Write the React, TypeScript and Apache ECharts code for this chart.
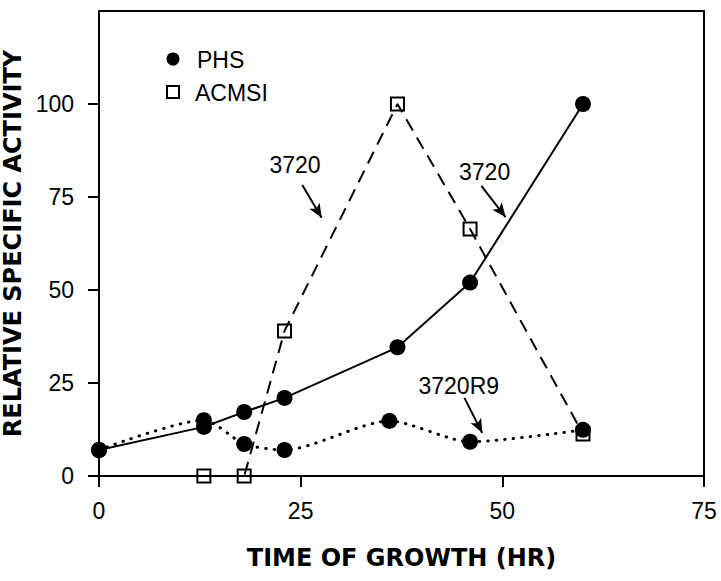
import React, { useEffect, useRef } from "react";
import * as echarts from "echarts";

const timeSolid = [0, 13, 18, 23, 37, 46, 60];
const phsSolid = [7, 13.2, 17.2, 21, 34.6, 52, 100];
const timeDotted = [0, 13, 18, 23, 36, 46, 60];
const phsDotted = [7, 15, 8.6, 7, 14.8, 9.2, 12.4];
const timeAcmsi = [13, 18, 23, 37, 46, 60];
const acmsi = [0, 0, 39, 100, 66.4, 11.3];
const xTicks = [0, 25, 50, 75];
const yTicks = [0, 25, 50, 75, 100];

const annotations = [
  { text: "3720", at: [24.3, 83.6], from: [25.2, 78.2], to: [27.6, 69.4] },
  { text: "3720", at: [47.8, 81.7], from: [47.4, 78], to: [50.4, 69.6] },
  { text: "3720R9", at: [44.6, 24.2], from: [45.3, 21], to: [47.5, 11.6] },
];

const FONT = "'Liberation Sans', Arial, Helvetica, sans-serif";
const TITLE_FONT = "'DejaVu Sans', sans-serif";

export default function App() {
  const ref = useRef<HTMLDivElement>(null);
  useEffect(() => {
    if (!ref.current) return;
    const chart = echarts.init(ref.current, undefined, { renderer: "svg" });
    const zip = (xs: number[], ys: number[]) => xs.map((x, i) => [x, ys[i]]);
    chart.setOption({
      animation: false,
      backgroundColor: "#fff",
      grid: {
        left: 99,
        right: 17,
        top: 11,
        bottom: 105,
        containLabel: false,
        outerBoundsMode: "none",
        show: true,
        borderColor: "#000",
        borderWidth: 2,
        backgroundColor: "transparent",
      },
      xAxis: {
        type: "value",
        min: 0,
        max: 75,
        interval: 25,
        name: "TIME OF GROWTH (HR)",
        nameLocation: "middle",
        nameGap: 70,
        nameTextStyle: { fontFamily: TITLE_FONT, fontSize: 24, fontWeight: "bold", color: "#000" },
        axisLine: { show: true, lineStyle: { color: "#000", width: 2 } },
        axisTick: { show: true, inside: false, length: 11, lineStyle: { color: "#000", width: 2 } },
        axisLabel: {
          margin: 23,
          fontFamily: FONT,
          fontSize: 23,
          color: "#000",
          customValues: xTicks,
        },
        splitLine: { show: false },
      },
      yAxis: {
        type: "value",
        min: 0,
        max: 125,
        interval: 25,
        name: "RELATIVE SPECIFIC ACTIVITY",
        nameLocation: "middle",
        nameGap: 70,
        nameTextStyle: { fontFamily: TITLE_FONT, fontSize: 24, fontWeight: "bold", color: "#000" },
        axisLine: { show: true, lineStyle: { color: "#000", width: 2 } },
        axisTick: {
          show: true,
          inside: false,
          length: 11,
          lineStyle: { color: "#000", width: 2 },
          customValues: yTicks,
        },
        axisLabel: {
          margin: 25,
          fontFamily: FONT,
          fontSize: 23,
          color: "#000",
          customValues: yTicks,
        },
        splitLine: { show: false },
      },
      series: [
        {
          name: "PHS 3720R9",
          type: "line",
          data: zip(timeDotted, phsDotted),
          smooth: 0.25,
          symbol: "circle",
          symbolSize: 16,
          itemStyle: { color: "#000" },
          lineStyle: { color: "#000", width: 3, type: [0.5, 8], cap: "round" },
          z: 3,
        },
        {
          name: "PHS 3720",
          type: "line",
          data: zip(timeSolid, phsSolid),
          symbol: "circle",
          symbolSize: 16,
          itemStyle: { color: "#000" },
          lineStyle: { color: "#000", width: 2 },
          z: 4,
        },
        {
          name: "ACMSI 3720",
          type: "line",
          data: zip(timeAcmsi, acmsi),
          symbol: "rect",
          symbolSize: 13,
          itemStyle: { color: "rgba(0,0,0,0)", borderColor: "#000", borderWidth: 2 },
          lineStyle: { color: "#000", width: 2, type: [13, 8] },
          z: 2,
        },
        {
          name: "annotations",
          type: "line",
          data: [],
          silent: true,
          markLine: {
            silent: true,
            animation: false,
            symbol: ["none", "arrow"],
            symbolSize: [9, 14],
            lineStyle: { color: "#000", width: 2, type: "solid" },
            label: { show: false },
            data: annotations.map((a) => [
              { coord: a.from, symbol: "none" },
              { coord: a.to, symbol: "arrow" },
            ]),
          },
          markPoint: {
            silent: true,
            symbol: "circle",
            symbolSize: 0,
            label: {
              show: true,
              position: "inside",
              fontFamily: FONT,
              fontSize: 23,
              color: "#000",
              formatter: (p: any) => p.name,
            },
            data: annotations.map((a) => ({ name: a.text, coord: a.at })),
          },
        },
      ],
      graphic: [
        { type: "circle", shape: { cx: 173, cy: 59, r: 6.5 }, style: { fill: "#000" } },
        {
          type: "text",
          x: 197,
          y: 60,
          style: { text: "PHS", fontFamily: FONT, fontSize: 23, fill: "#000", textVerticalAlign: "middle" },
        },
        {
          type: "rect",
          shape: { x: 167, y: 86, width: 12, height: 12 },
          style: { fill: "none", stroke: "#000", lineWidth: 2 },
        },
        {
          type: "text",
          x: 195,
          y: 93,
          style: { text: "ACMSI", fontFamily: FONT, fontSize: 23, fill: "#000", textVerticalAlign: "middle" },
        },
      ],
    });
    return () => chart.dispose();
  }, []);
  return (
    <div
      ref={ref}
      style={{ position: "fixed", left: 0, top: 0, width: 721, height: 581, background: "#fff" }}
    />
  );
}
